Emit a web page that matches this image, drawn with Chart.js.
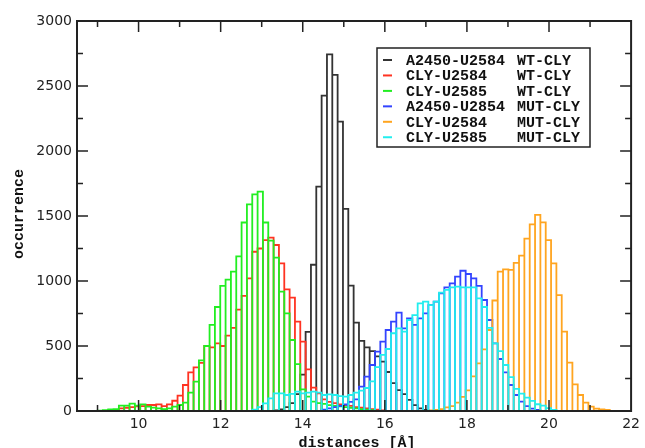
<!DOCTYPE html>
<html>
<head>
<meta charset="utf-8">
<script src="https://cdn.jsdelivr.net/npm/chart.js@4.4.0/dist/chart.umd.min.js"></script>
<style>
  html, body { margin: 0; padding: 0; background: #fff; }
</style>
</head>
<body>
<canvas id="histo" width="645" height="448"></canvas>
<script>
// all six sets share one bin grid
const binStart = 9.0;
const binWidth = 0.13;

const xTicks = [10, 12, 14, 16, 18, 20, 22];
const yTicks = [0, 500, 1000, 1500, 2000, 2500, 3000];

const seriesNames  = ['A2450-U2584', 'CLY-U2584', 'CLY-U2585', 'A2450-U2854', 'CLY-U2584', 'CLY-U2585'];
const seriesGroups = ['WT-CLY', 'WT-CLY', 'WT-CLY', 'MUT-CLY', 'MUT-CLY', 'MUT-CLY'];
const seriesColors = ['#333333', '#ff3322', '#22ee22', '#3344ff', '#ffa520', '#22eeee'];

// index of the first bin of each set
const firstBin = [33, 2, 0, 42, 62, 29];

const wtA2450 = [5, 12, 30, 60, 130, 280, 608, 1125, 1726, 2426, 2744, 2585, 2226, 1555, 964,
  680, 540, 490, 460, 420, 380, 300, 215, 160, 130, 85, 45, 20, 8];
const wtU2584 = [5, 8, 20, 25, 30, 35, 38, 46, 46, 51, 38, 51, 79, 118, 200, 297, 336, 370, 500,
  490, 520, 500, 580, 640, 780, 885, 1020, 1225, 1250, 1315, 1333, 1277, 1136, 936, 872, 687,
  533, 320, 180, 135, 90, 70, 60, 50, 45, 40, 30, 25, 20, 15, 10, 5];
const wtU2585 = [3, 6, 13, 15, 41, 41, 56, 41, 51, 33, 26, 20, 15, 20, 33, 46, 64, 141, 226, 390,
  500, 662, 800, 962, 1010, 1072, 1190, 1450, 1590, 1667, 1687, 1450, 1310, 1180, 918, 751, 546,
  361, 167, 110, 72, 60, 55, 45, 40, 35, 30, 25, 20, 15, 10, 6];
const mutA2450 = [10, 20, 30, 40, 50, 70, 90, 187, 264, 354, 456, 533, 623, 687, 756, 636, 713,
  662, 713, 751, 815, 841, 905, 951, 982, 1033, 1079, 1054, 1020, 962, 854, 700, 520, 400, 297,
  200, 123, 72, 38, 19, 8];
const mutU2584 = [5, 8, 15, 28, 38, 64, 108, 159, 267, 366, 474, 623, 850, 1072, 1090, 1085, 1140,
  1195, 1326, 1436, 1508, 1451, 1315, 1136, 892, 610, 372, 205, 123, 64, 33, 18, 13, 8];
const mutU2585 = [10, 30, 59, 97, 136, 136, 123, 131, 149, 136, 141, 149, 141, 123, 128, 123, 115,
  110, 123, 141, 156, 177, 228, 338, 431, 477, 598, 636, 610, 700, 738, 828, 841, 815, 841, 910,
  931, 951, 956, 951, 951, 951, 867, 800, 640, 520, 460, 354, 260, 170, 133, 103, 78, 52, 42, 22, 8];

const allCounts = [wtA2450, wtU2584, wtU2585, mutA2450, mutU2584, mutU2585];

// trace every bin as an open box, like xmgrace's bar outline
function outline(first, counts) {
  const pts = [];
  counts.forEach((c, i) => {
    const x0 = +(binStart + (first + i) * binWidth).toFixed(4);
    const x1 = +(x0 + binWidth).toFixed(4);
    pts.push({x: x0, y: 0}, {x: x0, y: c}, {x: x1, y: c}, {x: x1, y: 0});
  });
  return pts;
}

const datasets = allCounts.map((counts, i) => ({
  label: seriesNames[i] + ' ' + seriesGroups[i],
  data: outline(firstBin[i], counts),
  borderColor: seriesColors[i],
  borderWidth: 1.8,
  showLine: true,
  pointRadius: 0,
  tension: 0,
  fill: false,
  order: allCounts.length - i   // later sets painted on top
}));

const frameTicks = {
  id: 'frameTicks',
  afterDatasetsDraw(chart) {
    const {ctx, chartArea: a, scales: {x, y}} = chart;
    ctx.save();
    ctx.strokeStyle = '#222';
    ctx.lineWidth = 1.5;
    ctx.beginPath();
    for (let v = 9; v <= 21; v++) {
      const px = x.getPixelForValue(v);
      const len = v % 2 === 0 ? 11 : 6;
      ctx.moveTo(px, a.bottom); ctx.lineTo(px, a.bottom - len);
      ctx.moveTo(px, a.top); ctx.lineTo(px, a.top + len);
    }
    for (let v = 250; v < 3000; v += 250) {
      const py = y.getPixelForValue(v);
      const len = v % 500 === 0 ? 11 : 6;
      ctx.moveTo(a.left, py); ctx.lineTo(a.left + len, py);
      ctx.moveTo(a.right, py); ctx.lineTo(a.right - len, py);
    }
    ctx.stroke();
    ctx.lineWidth = 2;
    ctx.strokeRect(a.left, a.top, a.right - a.left, a.bottom - a.top);
    ctx.restore();
  }
};

const boxLegend = {
  id: 'boxLegend',
  afterDraw(chart) {
    const ctx = chart.ctx;
    ctx.save();
    ctx.strokeStyle = '#222';
    ctx.lineWidth = 1.5;
    ctx.strokeRect(377, 48, 213, 99);
    ctx.font = 'bold 15px "Liberation Mono", "DejaVu Sans Mono", monospace';
    ctx.textBaseline = 'middle';
    ctx.fillStyle = '#111';
    seriesNames.forEach((name, i) => {
      const ry = 60 + i * 15.45;
      ctx.strokeStyle = seriesColors[i];
      ctx.lineWidth = 2;
      ctx.beginPath();
      ctx.moveTo(383, ry); ctx.lineTo(392, ry);
      ctx.stroke();
      ctx.fillText(name, 406, ry + 1);
      ctx.fillText(seriesGroups[i], 517, ry + 1);
    });

    // axis titles
    ctx.textAlign = 'center';
    ctx.textBaseline = 'alphabetic';
    ctx.fillText('distances [Å]', 357, 447);
    ctx.translate(23, 214);
    ctx.rotate(-Math.PI / 2);
    ctx.fillText('occurrence', 0, 0);
    ctx.restore();
  }
};

const tickFont = {family: '"DejaVu Sans", sans-serif', size: 14};

new Chart(document.getElementById('histo'), {
  type: 'scatter',
  data: {datasets},
  options: {
    responsive: false,
    animation: false,
    events: [],
    layout: {padding: {top: 21, right: 10, left: 0, bottom: 0}},
    plugins: {legend: {display: false}, tooltip: {enabled: false}},
    scales: {
      x: {
        type: 'linear', min: 8.5, max: 22,
        grid: {display: false, drawTicks: false},
        border: {display: false},
        afterBuildTicks: s => { s.ticks = xTicks.map(v => ({value: v})); },
        afterFit: s => { s.height = 37; },
        ticks: {padding: 5, color: '#222', font: tickFont, maxRotation: 0, autoSkip: false,
                callback: v => String(v)}
      },
      y: {
        type: 'linear', min: 0, max: 3000,
        grid: {display: false, drawTicks: false},
        border: {display: false},
        afterBuildTicks: s => { s.ticks = yTicks.map(v => ({value: v})); },
        afterFit: s => { s.width = 77; },
        ticks: {padding: 5, color: '#222', font: tickFont, callback: v => String(v)}
      }
    }
  },
  plugins: [frameTicks, boxLegend]
});
</script>
</body>
</html>
